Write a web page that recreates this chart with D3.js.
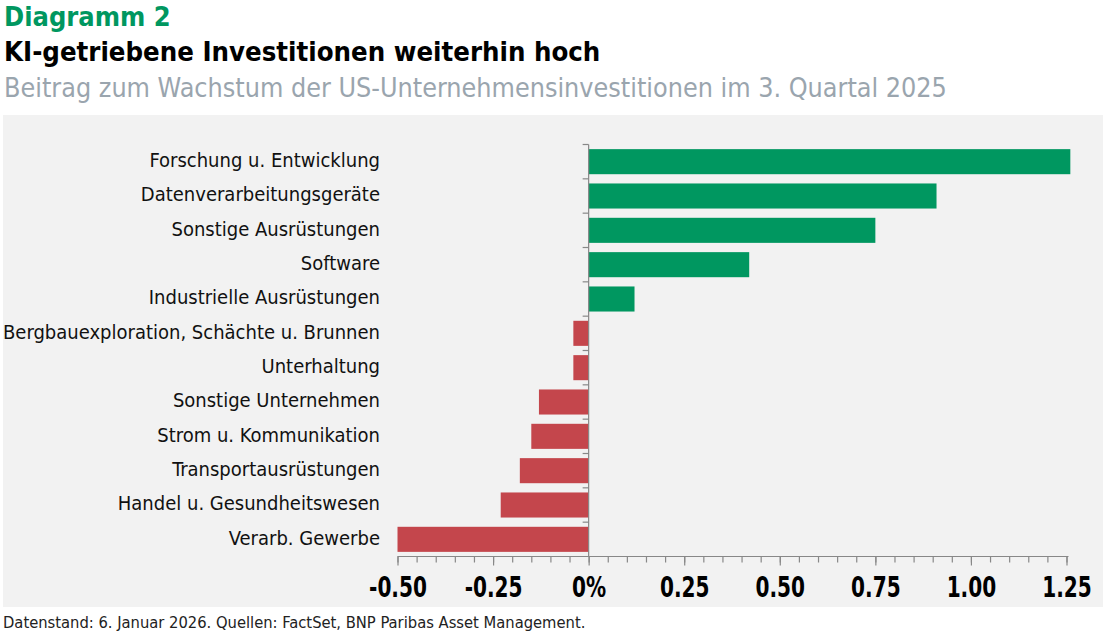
<!DOCTYPE html>
<html>
<head>
<meta charset="utf-8">
<script src="https://cdn.jsdelivr.net/npm/d3@7"></script>
<style>
  body { margin: 0; background: #fff; }
  svg text { font-family: "DejaVu Sans Condensed", "Roboto", sans-serif; }
</style>
</head>
<body>
<div id="chart"></div>
<script>
// ---- data ----
var categories = [
  "Forschung u. Entwicklung",
  "Datenverarbeitungsgeräte",
  "Sonstige Ausrüstungen",
  "Software",
  "Industrielle Ausrüstungen",
  "Bergbauexploration, Schächte u. Brunnen",
  "Unterhaltung",
  "Sonstige Unternehmen",
  "Strom u. Kommunikation",
  "Transportausrüstungen",
  "Handel u. Gesundheitswesen",
  "Verarb. Gewerbe"
];
var values = [1.26, 0.91, 0.75, 0.42, 0.12, -0.04, -0.04, -0.13, -0.15, -0.18, -0.23, -0.50];
var tickValues = [-0.5, -0.25, 0, 0.25, 0.5, 0.75, 1.0, 1.25];
var tickLabels = ["-0.50", "-0.25", "0%", "0.25", "0.50", "0.75", "1.00", "1.25"];

var width = 1105, height = 635;
var green = "#009760", red = "#c4464c";

var svg = d3.select("#chart").append("svg")
    .attr("width", width)
    .attr("height", height);

// titles
svg.append("text").attr("x", 4).attr("y", 26)
    .attr("fill", green).attr("font-weight", "bold").attr("font-size", 27)
    .text("Diagramm 2");
svg.append("text").attr("x", 4).attr("y", 61)
    .attr("fill", "#000").attr("font-weight", "bold").attr("font-size", 27.3)
    .text("KI-getriebene Investitionen weiterhin hoch");
svg.append("text").attr("x", 4).attr("y", 97)
    .attr("fill", "#9aa5ae").attr("font-size", 26.7)
    .text("Beitrag zum Wachstum der US-Unternehmensinvestitionen im 3. Quartal 2025");

// plot background
svg.append("rect")
    .attr("x", 3).attr("y", 115)
    .attr("width", 1100).attr("height", 492)
    .attr("fill", "#f2f2f2");

var x = d3.scaleLinear().domain([-0.5, 1.25]).range([397.5, 1066.5]);
var y = d3.scaleBand().domain(categories).range([144.5, 556.5]).paddingInner(0.27).paddingOuter(0.135);

// bars
svg.append("g").selectAll("rect")
    .data(values)
  .enter().append("rect")
    .attr("x", function(d) { return x(Math.min(0, d)); })
    .attr("y", function(d, i) { return y(categories[i]); })
    .attr("width", function(d) { return Math.abs(x(d) - x(0)); })
    .attr("height", y.bandwidth())
    .attr("fill", function(d) { return d >= 0 ? green : red; });

// category labels
svg.append("g").selectAll("text")
    .data(categories)
  .enter().append("text")
    .attr("x", 380)
    .attr("y", function(d) { return y(d) + y.bandwidth() / 2; })
    .attr("dy", "0.27em")
    .attr("text-anchor", "end")
    .attr("font-size", 20)
    .attr("fill", "#111")
    .text(function(d) { return d; });

// y axis at zero, ticks between categories
var yAxisG = svg.append("g").attr("transform", "translate(" + x(0) + ",0)");
yAxisG.append("line")
    .attr("y1", 144.5).attr("y2", 556.5)
    .attr("stroke", "#888").attr("stroke-width", 1.2);
var bounds = d3.range(categories.length).map(function(i) { return y.step() * i + 144.5; });
yAxisG.selectAll("line.tk").data(bounds).enter().append("line")
    .attr("class", "tk")
    .attr("x1", -6).attr("x2", 0)
    .attr("y1", function(d) { return d; }).attr("y2", function(d) { return d; })
    .attr("stroke", "#888").attr("stroke-width", 1.2);

// x axis: minor ticks every 0.05, major every 0.25
var xAxisY = 556.5;
var minor = d3.range(-0.5, 1.2501, 0.05);
var xMinor = d3.axisBottom(x).tickValues(minor).tickSize(6).tickFormat("");
var gMinor = svg.append("g").attr("transform", "translate(0," + xAxisY + ")").call(xMinor);
gMinor.select(".domain").attr("d", "M" + x(-0.5) + ",0H" + (x(1.25) + 2)).attr("stroke", "#888").attr("stroke-width", 1.2);
gMinor.selectAll(".tick line").attr("stroke", "#888").attr("stroke-width", 1.2);

var xMajor = d3.axisBottom(x).tickValues(tickValues).tickSize(9)
    .tickFormat(function(d, i) { return tickLabels[i]; });
var gMajor = svg.append("g").attr("transform", "translate(0," + xAxisY + ")").call(xMajor);
gMajor.select(".domain").remove();
gMajor.selectAll(".tick line").attr("stroke", "#888").attr("stroke-width", 1.2);
// squeeze the digits to the narrow width of the original face
gMajor.selectAll(".tick text")
    .attr("y", 0)
    .attr("dy", 0)
    .attr("transform", "translate(0,40) scale(0.77,1)")
    .attr("font-size", 29)
    .attr("font-weight", "bold")
    .attr("fill", "#000")
    .attr("font-family", "'DejaVu Sans Condensed', sans-serif");

// footer
svg.append("text").attr("x", 3).attr("y", 628)
    .attr("font-size", 16.4).attr("fill", "#222")
    .text("Datenstand: 6. Januar 2026. Quellen: FactSet, BNP Paribas Asset Management.");
</script>
</body>
</html>
